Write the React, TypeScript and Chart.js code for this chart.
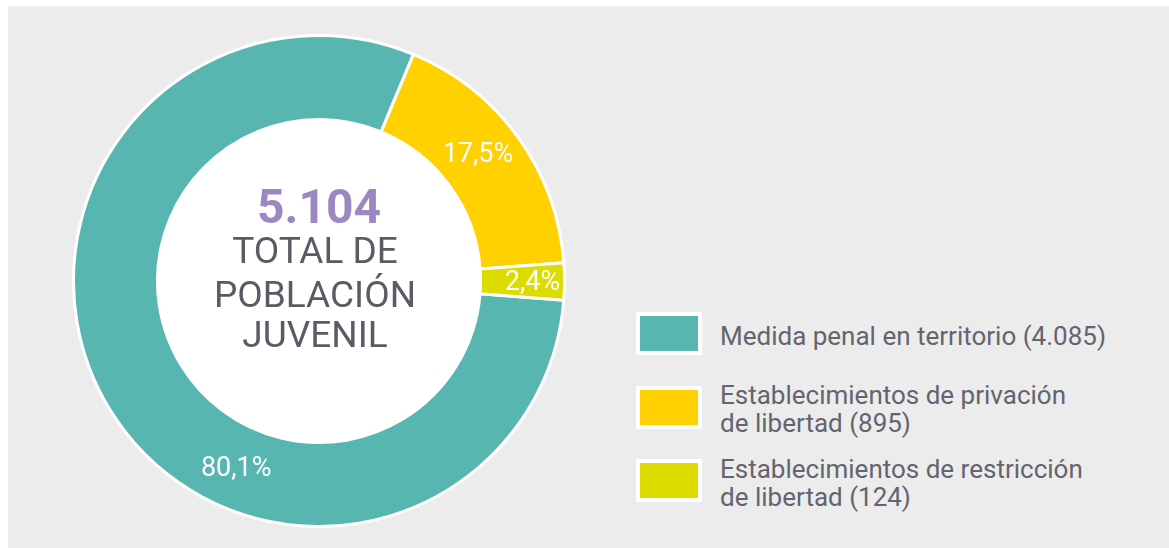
import React, { useEffect, useRef } from "react";
import { Chart, registerables } from "chart.js";

Chart.register(...registerables);

const categories = [
  "Medida penal en territorio",
  "Establecimientos de privación de libertad",
  "Establecimientos de restricción de libertad",
];
const values = [4085, 895, 124];
const percentLabels = ["80,1%", "17,5%", "2,4%"];
const colors = ["#57b6b0", "#ffd100", "#dcdc00"];
const legendLines = [
  ["Medida penal en territorio (4.085)"],
  ["Establecimientos de privación", "de libertad (895)"],
  ["Establecimientos de restricción", "de libertad (124)"],
];
const centerLines = ["TOTAL DE", "POBLACIÓN", "JUVENIL"];
const totalLabel = "5.104";
// label placement inside each arc: fraction along arc, fraction across ring
const labelAlong = [0.379, 0.46, 0.55];
const labelAcross = [0.53, 0.49, 0.62];

const FONT = "Roboto, 'Noto Sans', sans-serif";

export default function App() {
  const ref = useRef<HTMLCanvasElement>(null);
  useEffect(() => {
    if (!ref.current) return;
    const labelsPlugin = {
      id: "arcLabels",
      beforeDatasetsDraw(chart: any) {
        const meta = chart.getDatasetMeta(0);
        const p = meta.data[0].getProps(["x", "y", "innerRadius"], true);
        const ctx = chart.ctx;
        ctx.save();
        ctx.fillStyle = "#ffffff";
        ctx.beginPath();
        ctx.arc(p.x, p.y, p.innerRadius + 1, 0, Math.PI * 2);
        ctx.fill();
        ctx.restore();
      },
      afterDatasetsDraw(chart: any) {
        const ctx = chart.ctx;
        const meta = chart.getDatasetMeta(0);
        ctx.save();
        ctx.fillStyle = "#ffffff";
        ctx.font = `400 27px ${FONT}`;
        ctx.textAlign = "center";
        ctx.textBaseline = "middle";
        meta.data.forEach((arc: any, i: number) => {
          const p = arc.getProps(["x", "y", "startAngle", "endAngle", "innerRadius", "outerRadius"], true);
          const a = p.startAngle + labelAlong[i] * (p.endAngle - p.startAngle);
          const r = p.innerRadius + labelAcross[i] * (p.outerRadius - p.innerRadius);
          ctx.fillText(percentLabels[i], p.x + r * Math.cos(a), p.y + r * Math.sin(a));
        });
        // center text
        const p0 = meta.data[0].getProps(["x", "y"], true);
        ctx.textBaseline = "alphabetic";
        ctx.fillStyle = "#9b88c2";
        ctx.font = `700 48px ${FONT}`;
        ctx.fillText(totalLabel, p0.x, p0.y - 58);
        ctx.fillStyle = "#5b5b66";
        ctx.font = `400 37px ${FONT}`;
        const offs = [-18, 26, 66];
        centerLines.forEach((t, i) => ctx.fillText(t, p0.x - 4, p0.y + offs[i]));
        ctx.restore();
      },
    };
    const chart = new Chart(ref.current, {
      type: "doughnut",
      data: {
        labels: categories,
        datasets: [
          {
            data: values,
            backgroundColor: colors,
            borderColor: "#ffffff",
            borderWidth: 3,
          },
        ],
      },
      options: {
        animation: false,
        responsive: false,
        maintainAspectRatio: false,
        rotation: 94.5,
        cutout: "65.8%",
        layout: { padding: 0 },
        plugins: { legend: { display: false }, tooltip: { enabled: false } },
      },
      plugins: [labelsPlugin],
    });
    return () => chart.destroy();
  }, []);

  const legendTops = [322, 381, 455];
  const boxTops = [312, 386, 459];
  return (
    <div
      style={{
        position: "fixed",
        left: 0,
        top: 0,
        width: 1169,
        height: 548,
        background: "#ffffff",
        fontFamily: FONT,
      }}
    >
      <div
        style={{
          position: "absolute",
          left: 8,
          top: 6,
          width: 1161,
          height: 542,
          background: "#ececec",
        }}
      />
      <canvas
        ref={ref}
        width={494}
        height={494}
        style={{ position: "absolute", left: 72, top: 34, width: 494, height: 494 }}
      />
      {legendLines.map((lines, i) => (
        <React.Fragment key={i}>
          <div
            style={{
              position: "absolute",
              left: 636,
              top: boxTops[i],
              width: 58,
              height: 35,
              background: colors[i],
              border: "4px solid #ffffff",
            }}
          />
          <div
            style={{
              position: "absolute",
              left: 720,
              top: legendTops[i],
              fontSize: 26,
              lineHeight: "28px",
              color: "#64646e",
              whiteSpace: "nowrap",
            }}
          >
            {lines.map((l, j) => (
              <div key={j}>{l}</div>
            ))}
          </div>
        </React.Fragment>
      ))}
    </div>
  );
}
